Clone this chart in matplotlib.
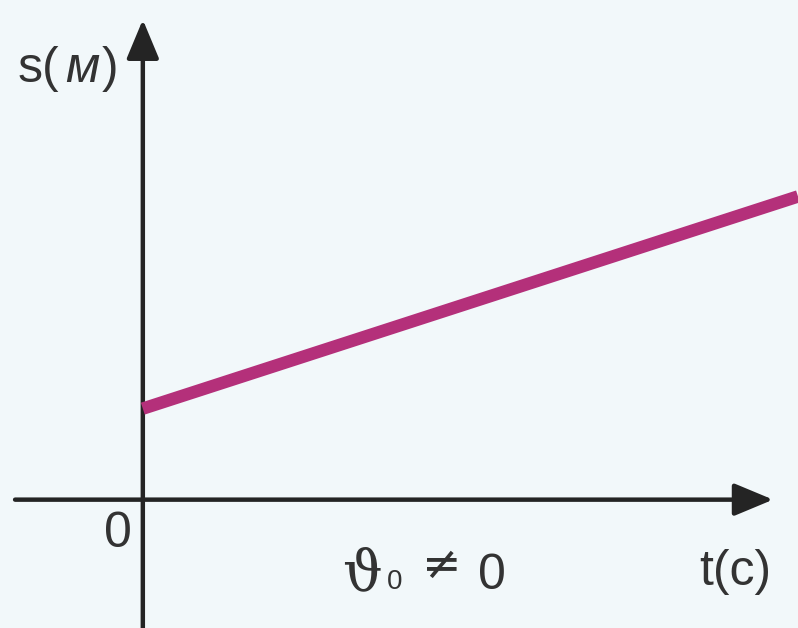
import matplotlib
matplotlib.use("Agg")
import matplotlib.pyplot as plt

# s(t) for uniform motion with nonzero initial position
t_vals = [0.0, 10.0]
s_vals = [1.39, 4.63]

x_label = "t(c)"
y_label_parts = ["s(", "м", ")"]
origin_label = "0"
note_parts = ["ϑ", "0", "≠", "0"]

bg = "#f2f8fa"
axis_color = "#242424"
line_color = "#b4307a"
text_color = "#333333"

fig = plt.figure(figsize=(7.98, 6.28), dpi=100, facecolor=bg)
ax = fig.add_axes([0, 0, 1, 1])
ax.set_facecolor(bg)
ax.set_xlim(-2.18, 10.0)
ax.set_ylim(-1.96, 7.63)
ax.axis("off")

# axes with arrow heads
arrow = dict(arrowstyle="-|>,head_length=1.2,head_width=0.5", lw=3.2,
             color=axis_color, shrinkA=0, shrinkB=0, mutation_scale=20)
ax.annotate("", xy=(9.62, 0), xytext=(-1.95, 0), arrowprops=arrow)
ax.annotate("", xy=(0, 7.33), xytext=(0, -1.96), arrowprops=arrow)

# the s(t) line
ax.plot(t_vals, s_vals, color=line_color, lw=9, solid_capstyle="butt", zorder=3)

sans = ["Liberation Sans", "DejaVu Sans"]

# y label: s(м) with italic м
ax.text(-1.91, 6.38, y_label_parts[0], family=sans, size=36, color=text_color, va="baseline")
ax.text(-1.19, 6.38, y_label_parts[1], family=sans, style="italic", size=36,
        color=text_color, va="baseline")
ax.text(-0.62, 6.38, y_label_parts[2], family=sans, size=36, color=text_color, va="baseline")

# origin and x label
ax.text(-0.38, -0.52, origin_label, family=sans, size=36, color=text_color,
        ha="center", va="center")
ax.text(9.04, -1.30, x_label, family=sans, size=36, color=text_color,
        ha="center", va="baseline")

# ϑ0 ≠ 0
ax.text(3.04, -1.37, note_parts[0], family=["DejaVu Serif"], size=40,
        color=text_color, va="baseline")
ax.text(3.72, -1.37, note_parts[1], family=sans, size=20, color=text_color, va="baseline")
ax.text(4.57, -1.02, note_parts[2], family=["DejaVu Sans"], size=34, color=text_color,
        ha="center", va="center")
ax.text(5.33, -1.37, note_parts[3], family=sans, size=36, color=text_color,
        ha="center", va="baseline")

fig.savefig("out.png", dpi=100, facecolor=bg)
